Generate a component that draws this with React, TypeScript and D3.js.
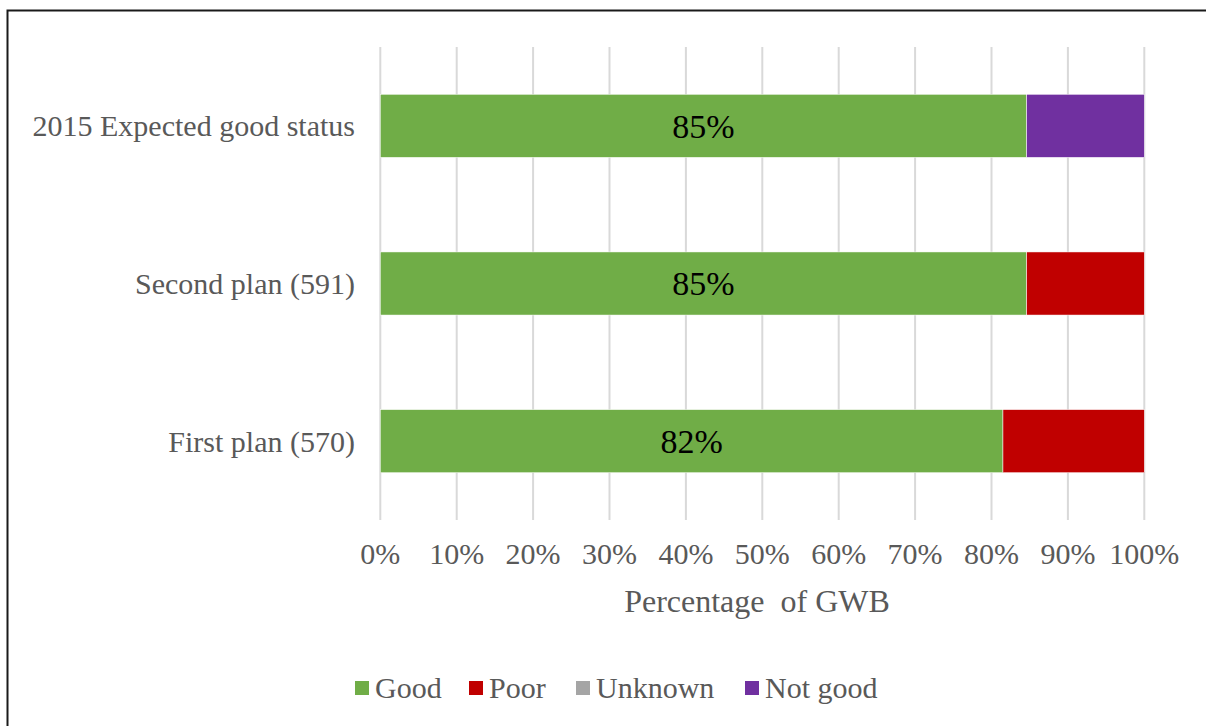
import React from "react";
import * as d3 from "d3";

const categories = ["2015 Expected good status", "Second plan (591)", "First plan (570)"];
const seriesNames = ["Good", "Poor", "Unknown", "Not good"];
const seriesColors = ["#70AD47", "#C00000", "#A5A5A5", "#7030A0"];
const goodValues = [84.6, 84.6, 81.5];
const poorValues = [0, 15.4, 18.5];
const unknownValues = [0, 0, 0];
const notGoodValues = [15.4, 0, 0];
const tickValues = [0, 10, 20, 30, 40, 50, 60, 70, 80, 90, 100];

const W = 1206;
const H = 726;
const FONT = "Liberation Serif, DejaVu Serif, serif";
const TEXT = "#595959";

export default function App() {
  const x = d3.scaleLinear().domain([0, 100]).range([380.3, 1144.3]);
  const y = d3.scaleBand<string>().domain(categories).range([47, 520]).paddingInner(0.6).paddingOuter(0.3);

  const rows = categories.map((c, i) => ({
    cat: c,
    Good: goodValues[i],
    Poor: poorValues[i],
    Unknown: unknownValues[i],
    "Not good": notGoodValues[i],
  }));
  const stacked = d3.stack<any>().keys(seriesNames)(rows);

  const legendItems = [
    { name: "Good", sx: 355 },
    { name: "Poor", sx: 469 },
    { name: "Unknown", sx: 576 },
    { name: "Not good", sx: 745 },
  ];

  const ts = { fontFamily: FONT };

  return (
    <svg width={W} height={H} style={{ position: "absolute", left: 0, top: 0, background: "#fff" }}>
      <rect x={0} y={0} width={W} height={H} fill="#fff" />
      <rect x={7.5} y={10.5} width={W + 20} height={H + 20} fill="none" stroke="#1a1a1a" strokeWidth={2} />
      {tickValues.map((t) => (
        <line key={t} x1={x(t)} x2={x(t)} y1={47} y2={520} stroke="#D9D9D9" strokeWidth={2} />
      ))}
      {stacked.map((s, si) => (
        <g key={s.key} fill={seriesColors[si]}>
          {s.map((d, i) =>
            d[1] - d[0] > 0 ? (
              <rect
                key={i}
                x={x(d[0])}
                y={y(categories[i])}
                width={x(d[1]) - x(d[0])}
                height={y.bandwidth()}
                stroke="#fff"
                strokeWidth={0.5}
              />
            ) : null
          )}
        </g>
      ))}
      {categories.map((c, i) => (
        <text
          key={"v" + c}
          x={(x(0) + x(goodValues[i])) / 2}
          y={(y(c) as number) + y.bandwidth() / 2}
          dy="0.35em"
          textAnchor="middle"
          style={ts}
          fontSize={34}
          fill="#000"
        >
          {Math.round(goodValues[i])}%
        </text>
      ))}
      {categories.map((c) => (
        <text
          key={"c" + c}
          x={355}
          y={(y(c) as number) + y.bandwidth() / 2}
          dy="0.35em"
          textAnchor="end"
          style={ts}
          fontSize={30}
          fill={TEXT}
        >
          {c}
        </text>
      ))}
      {tickValues.map((t) => (
        <text key={"t" + t} x={x(t)} y={564} textAnchor="middle" style={ts} fontSize={30} fill={TEXT}>
          {t}%
        </text>
      ))}
      <text x={757} y={612} textAnchor="middle" style={{ ...ts, whiteSpace: "pre" }} fontSize={32} fill={TEXT}>
        {"Percentage  of GWB"}
      </text>
      {legendItems.map((l) => (
        <g key={l.name}>
          <rect x={l.sx} y={681} width={14} height={14} fill={seriesColors[seriesNames.indexOf(l.name)]} />
          <text x={l.sx + 20} y={698} style={ts} fontSize={30} fill={TEXT}>
            {l.name}
          </text>
        </g>
      ))}
    </svg>
  );
}
